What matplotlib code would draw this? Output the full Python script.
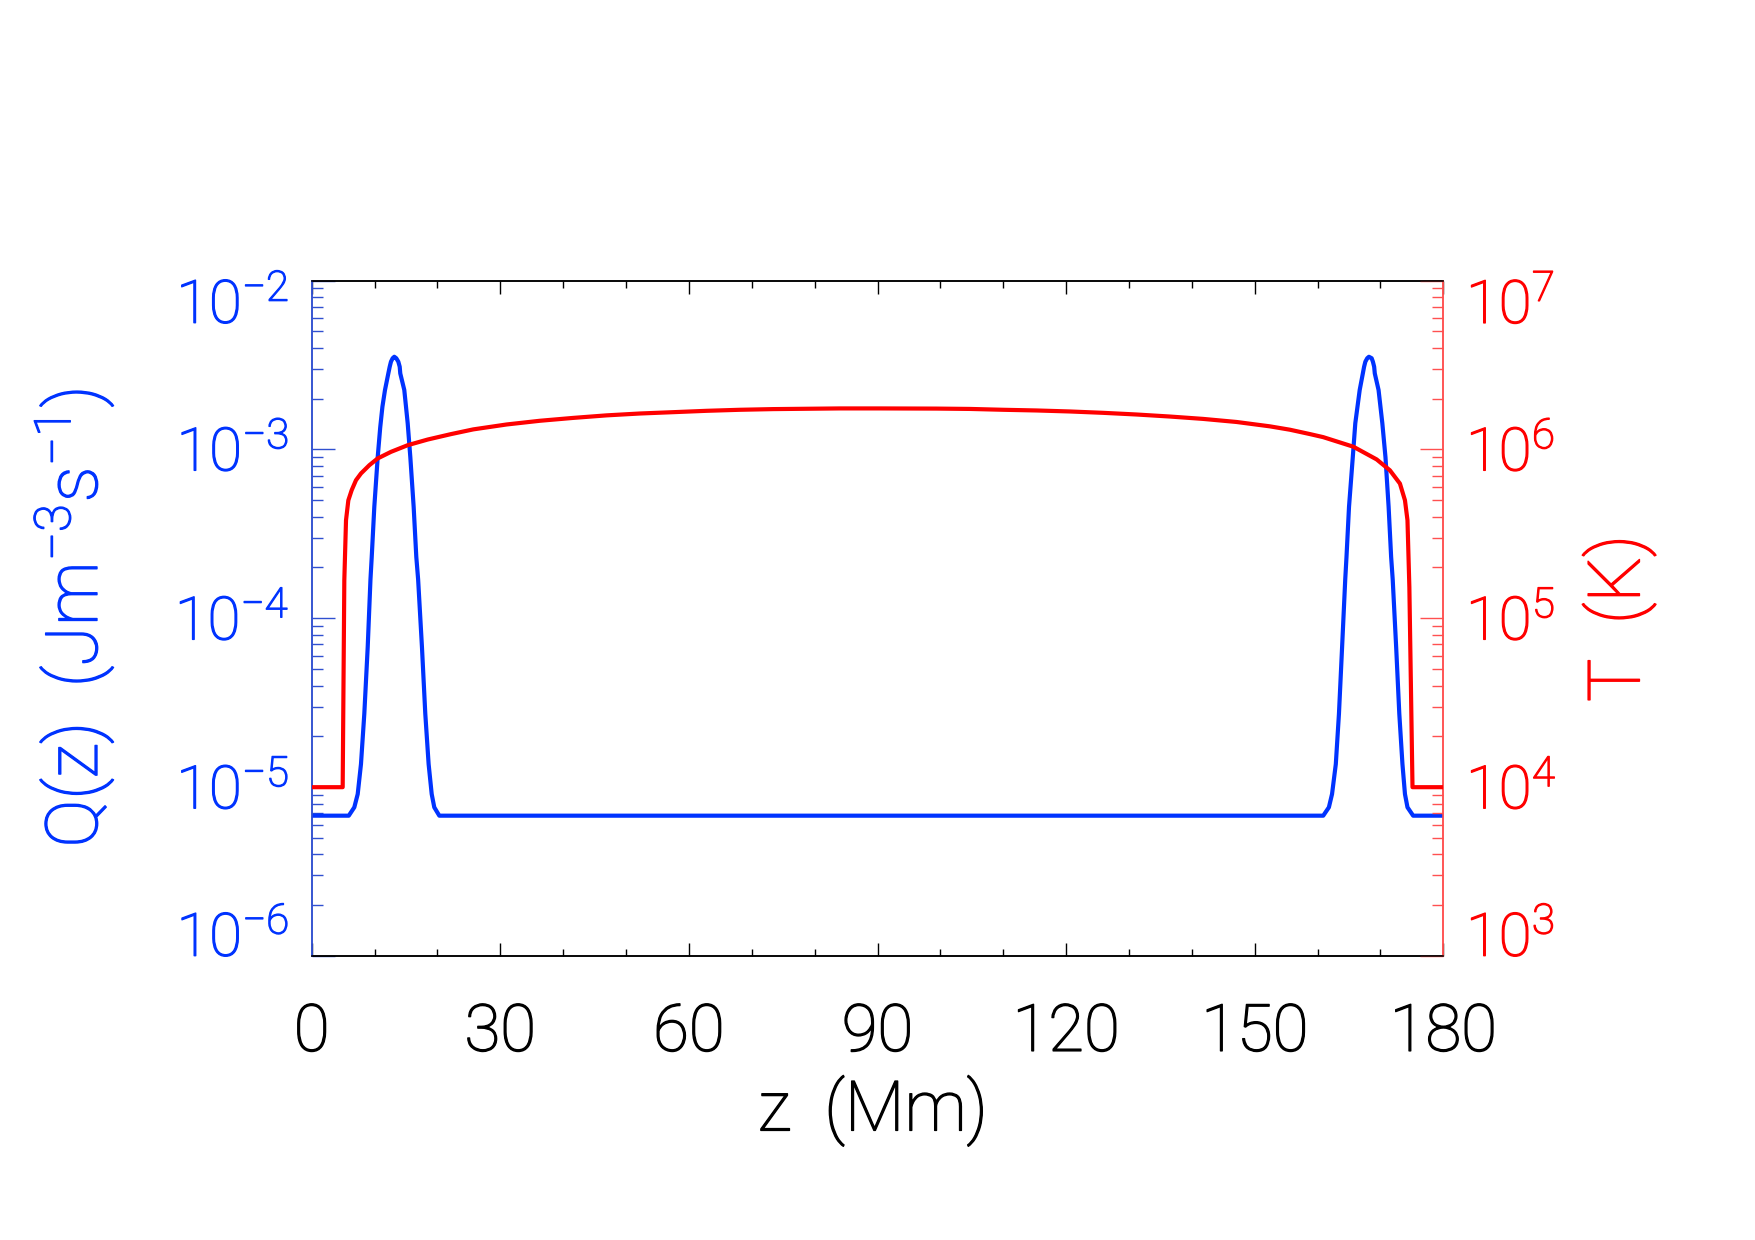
import matplotlib
matplotlib.use('Agg')
import matplotlib.pyplot as plt
import matplotlib.transforms as mtransforms
import matplotlib.patheffects as pe
from matplotlib.ticker import MultipleLocator, LogLocator, NullFormatter, FixedLocator

plt.rcParams['font.family'] = ['Roboto', 'DejaVu Sans']
plt.rcParams['font.weight'] = 'light'
plt.rcParams['axes.labelweight'] = 'light'
plt.rcParams['mathtext.default'] = 'regular'

# ---------------- data ----------------
z_q = [0.0, 5.9, 6.78, 7.32, 7.84, 8.37, 8.91, 9.35, 9.55, 9.96, 10.5, 10.9, 11.25, 11.66,
       12.19, 12.41, 12.61, 12.88, 13.14, 13.45, 13.78, 14.0, 14.09, 14.73, 15.27, 15.69, 16.22,
       16.64, 16.93, 17.54, 18.07, 18.6, 19.09, 19.5, 20.3,
       160.9, 161.8, 162.3, 162.9, 163.4, 163.9, 164.4, 164.6, 165.0, 165.6, 166.0,
       166.7, 167.2, 167.4, 167.6, 167.9, 168.17, 168.6, 168.8, 169.0, 169.1, 169.7, 170.3, 170.8,
       171.3, 171.7, 171.95, 172.5, 173.0, 173.5, 173.9, 174.3, 175.2, 180.0]
q_vals = [6.78e-6, 6.78e-6, 7.6e-6, 9.1e-6, 1.37e-5, 2.72e-5, 6.75e-5, 1.7e-4, 2.31e-4, 4.57e-4,
          9.0e-4, 1.35e-3, 1.79e-3, 2.25e-3, 2.82e-3, 3.09e-3, 3.31e-3, 3.47e-3, 3.54e-3, 3.47e-3,
          3.31e-3, 3.09e-3, 2.82e-3, 2.25e-3, 1.43e-3, 9.0e-4, 4.57e-4, 2.31e-4, 1.7e-4, 6.75e-5,
          2.72e-5, 1.37e-5, 9.1e-6, 7.6e-6, 6.78e-6,
          6.78e-6, 7.6e-6, 9.1e-6, 1.37e-5, 2.72e-5, 6.75e-5, 1.7e-4, 2.31e-4, 4.57e-4,
          9.0e-4, 1.43e-3, 2.25e-3, 2.82e-3, 3.09e-3, 3.31e-3, 3.47e-3, 3.54e-3, 3.47e-3, 3.31e-3,
          3.09e-3, 2.82e-3, 2.25e-3, 1.43e-3, 9.0e-4, 4.57e-4, 2.31e-4, 1.7e-4, 6.75e-5, 2.72e-5,
          1.37e-5, 9.1e-6, 7.6e-6, 6.78e-6, 6.78e-6]

z_t = [0.0, 4.93, 5.19, 5.46, 5.83, 6.36, 7.05, 7.84, 9.17, 10.5, 12.61, 15.27, 18.45,
       22.16, 25.7, 31.0, 36.3, 41.6, 46.9, 52.2, 57.5, 62.8, 68.1, 73.4, 78.7, 84.0,
       90.4, 99.4, 104.7, 110.0, 115.3, 120.6, 125.9, 131.2, 136.5, 141.8, 147.1, 152.4,
       155.6, 158.8, 160.9, 165.7, 169.4, 171.5, 173.1, 173.9, 174.3, 174.6, 175.1, 180.0]
t_vals = [1.0e4, 1.0e4, 1.68e5, 3.81e5, 5.0e5, 5.74e5, 6.58e5, 7.21e5, 8.07e5, 8.85e5,
          9.68e5, 1.06e6, 1.145e6, 1.233e6, 1.315e6, 1.406e6, 1.479e6, 1.538e6, 1.592e6,
          1.633e6, 1.663e6, 1.694e6, 1.718e6, 1.734e6, 1.742e6, 1.750e6, 1.750e6, 1.746e6,
          1.738e6, 1.718e6, 1.702e6, 1.679e6, 1.648e6, 1.611e6, 1.567e6, 1.517e6, 1.455e6,
          1.371e6, 1.309e6, 1.233e6, 1.183e6, 1.038e6, 8.73e5, 7.53e5, 6.28e5, 5.0e5,
          3.81e5, 1.53e5, 1.0e4, 1.0e4]

x_ticks = [0, 30, 60, 90, 120, 150, 180]
x_tick_labels = ['0', '30', '60', '90', '120', '150', '180']
q_ticks = [1e-6, 1e-5, 1e-4, 1e-3, 1e-2]
q_tick_labels = ['$10^{-6}$', '$10^{-5}$', '$10^{-4}$', '$10^{-3}$', '$10^{-2}$']
t_ticks = [1e3, 1e4, 1e5, 1e6, 1e7]
t_tick_labels = ['$10^{3}$', '$10^{4}$', '$10^{5}$', '$10^{6}$', '$10^{7}$']

x_label = 'z  (Mm)'
q_label = 'Q(z)  (Jm$^{-3}$s$^{-1}$)'
t_label = 'T  (K)'

# ---------------- styles ----------------
BLUE = '#0033ff'
BLUE_TICK = '#3050d0'
RED = '#ff0000'
RED_TICK = '#ff5050'
TICK_FS = 43
XTICK_FS = 47
XLABEL_FS = 50
YLABEL_FS = 52
STROKE = 1.0

def thicken(txt, color):
    txt.set_path_effects([pe.withStroke(linewidth=STROKE, foreground=color)])

fig = plt.figure(figsize=(17.55, 12.40), dpi=100)
ax = fig.add_axes([0.1776, 0.229, 0.6448, 0.5447])
ax2 = ax.twinx()

ax.plot(z_q, q_vals, color=BLUE, lw=3.0, solid_joinstyle='round', zorder=3)
ax2.plot(z_t, t_vals, color=RED, lw=3.0, solid_joinstyle='round', zorder=3)

ax.set_xlim(0, 180)
ax.set_yscale('log')
ax.set_ylim(1e-6, 1e-2)
ax2.set_yscale('log')
ax2.set_ylim(1e3, 1e7)

# x ticks
ax.set_xticks(x_ticks)
ax.set_xticklabels(x_tick_labels, fontsize=XTICK_FS, fontweight='light')
ax.xaxis.set_minor_locator(MultipleLocator(10))
ax.tick_params(axis='x', which='major', direction='in', length=9.7, width=1.0,
               top=True, bottom=True, pad=33, colors='black')
ax.tick_params(axis='x', which='minor', direction='in', length=4.9, width=1.0,
               top=True, bottom=True, colors='black')
for lab in ax.get_xticklabels():
    thicken(lab, 'black')

# y ticks (labels drawn manually, IDL-style placement)
for a, ticks, col, side in [(ax, q_ticks, BLUE_TICK, 'left'), (ax2, t_ticks, RED_TICK, 'right')]:
    a.yaxis.set_major_locator(FixedLocator(ticks))
    a.yaxis.set_minor_locator(LogLocator(base=10, subs=[2, 3, 4, 5, 6, 7, 8, 9], numticks=50))
    a.yaxis.set_minor_formatter(NullFormatter())
    a.tick_params(axis='y', which='major', direction='in', length=16.3, width=1.0, color=col,
                  left=(side == 'left'), right=(side == 'right'),
                  labelleft=False, labelright=False)
    a.tick_params(axis='y', which='minor', direction='in', length=8.1, width=1.0, color=col,
                  left=(side == 'left'), right=(side == 'right'))

cap_px = 0.711 * TICK_FS * fig.dpi / 72.0

def draw_labels(a, ticks, labels, xpos, ha, color):
    base = mtransforms.blended_transform_factory(a.transAxes, a.transData)
    n = len(ticks)
    for i, (v, lab) in enumerate(zip(ticks, labels)):
        if i == 0:
            dy = 0.0
        elif i == n - 1:
            dy = -cap_px
        else:
            dy = -cap_px / 2.0
        tr = mtransforms.offset_copy(base, fig=fig, x=0, y=dy, units='dots')
        t = a.text(xpos, v, lab, transform=tr, ha=ha, va='baseline', color=color,
                   fontsize=TICK_FS, fontweight='light', clip_on=False)
        thicken(t, color)

draw_labels(ax, q_ticks, q_tick_labels, -0.0201, 'right', BLUE)
draw_labels(ax2, t_ticks, t_tick_labels, 1.0201, 'left', RED)

# spines
for a in (ax, ax2):
    a.spines['left'].set_color(BLUE_TICK)
    a.spines['right'].set_color(RED_TICK)
    a.spines['top'].set_color('black')
    a.spines['bottom'].set_color('black')
    for s in a.spines.values():
        s.set_linewidth(1.1)

# axis labels
xl = ax.set_xlabel(x_label, fontsize=XLABEL_FS, fontweight='light', color='black', va='center')
ax.xaxis.set_label_coords(0.496, -0.2295)
thicken(xl, 'black')
yl = ax.set_ylabel(q_label, fontsize=YLABEL_FS, fontweight='light', color=BLUE, va='center', ha='center')
ax.yaxis.set_label_coords(-0.210, 0.5)
thicken(yl, BLUE)
tl = ax2.set_ylabel(t_label, fontsize=YLABEL_FS, fontweight='light', color=RED, va='center', ha='center')
ax2.yaxis.set_label_coords(1.1553, 0.5)
thicken(tl, RED)

fig.savefig('out.png', dpi=100, facecolor='white')
